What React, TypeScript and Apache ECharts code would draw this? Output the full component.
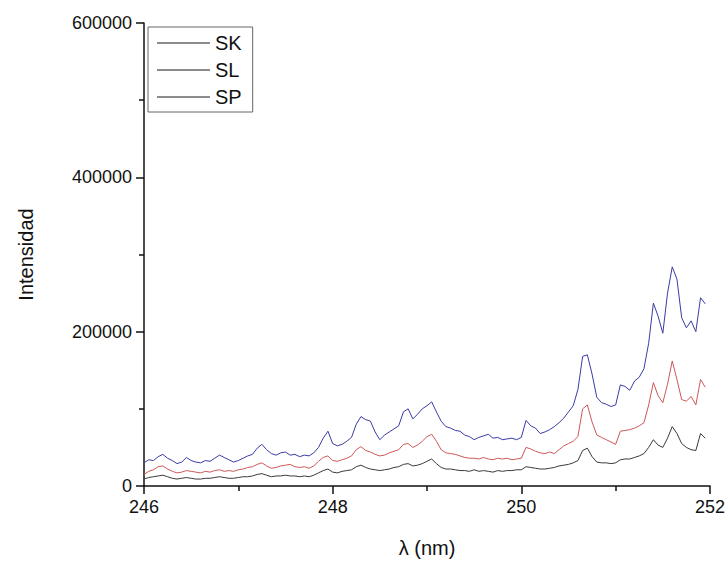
import React, { useEffect, useRef } from "react";
import * as echarts from "echarts";

// Wavelength sampling grid (nm), 0.05 nm steps from 246.00 to 251.95
const WAVELENGTH: number[] = Array.from({ length: 120 }, (_, i) => +(246 + i * 0.05).toFixed(2));

// Intensities in thousands of counts
const SK_K = [
  30, 34, 33, 38, 41, 36, 33, 29, 31, 37, 33, 31, 30, 33, 32, 36, 40, 37, 34, 31,
  33, 36, 39, 41, 49, 54, 47, 42, 40, 43, 44, 40, 41, 38, 40, 39, 43, 50, 62, 71,
  55, 52, 54, 58, 63, 80, 90, 86, 84, 70, 60, 66, 70, 74, 78, 96, 100, 87, 93, 100,
  104, 109, 96, 84, 77, 75, 72, 71, 66, 64, 60, 63, 65, 67, 62, 63, 60, 61, 62, 60,
  63, 85, 78, 75, 68, 70, 73, 77, 82, 88, 96, 104, 125, 168, 170, 145, 115, 108, 106, 103,
  105, 131, 129, 124, 136, 141, 152, 185, 237, 220, 198, 250, 284, 268, 218, 205, 214, 200, 244, 236,
];
const SL_K = [
  15, 19, 21, 25, 26, 22, 19, 17, 18, 20, 19, 18, 17, 19, 18, 20, 21, 19, 20, 19,
  21, 22, 24, 25, 28, 30, 26, 23, 24, 26, 27, 28, 25, 24, 25, 23, 26, 32, 37, 39,
  33, 32, 34, 36, 39, 47, 51, 46, 44, 41, 39, 40, 43, 45, 47, 54, 55, 50, 53, 58,
  64, 67, 58, 47, 43, 42, 41, 39, 37, 36, 36, 35, 37, 35, 34, 36, 35, 36, 34, 35,
  36, 50, 48, 45, 43, 42, 44, 42, 47, 52, 55, 58, 64, 100, 105, 83, 66, 63, 60, 57,
  54, 71, 72, 73, 75, 78, 82, 105, 134, 117, 108, 132, 162, 138, 112, 110, 116, 105, 138, 128,
];
const SP_K = [
  9, 11, 12, 13, 14, 12, 10, 9, 10, 11, 10, 9, 9, 10, 10, 11, 12, 11, 10, 10,
  11, 12, 12, 13, 15, 16, 14, 12, 13, 13, 14, 13, 13, 12, 13, 12, 14, 17, 20, 22,
  18, 17, 19, 20, 21, 25, 27, 24, 22, 21, 20, 21, 22, 24, 25, 28, 29, 26, 27, 29,
  32, 35, 29, 24, 22, 22, 21, 20, 20, 19, 21, 19, 20, 19, 18, 20, 19, 20, 20, 21,
  21, 25, 24, 23, 22, 22, 23, 24, 26, 27, 28, 30, 33, 46, 49, 38, 31, 30, 30, 29,
  30, 34, 35, 35, 37, 39, 42, 50, 60, 53, 50, 62, 77, 68, 55, 50, 47, 46, 68, 62,
];

const SERIES_NAMES = ["SK", "SL", "SP"];
const SERIES_COLORS = ["#3a3ca4", "#cc5858", "#3a3a3a"];
const SERIES_K = [SK_K, SL_K, SP_K];

const FONT = 'Arial, "Liberation Sans", sans-serif';

export default function App() {
  const ref = useRef<HTMLDivElement>(null);

  useEffect(() => {
    if (!ref.current) return;
    const chart = echarts.init(ref.current, undefined, { renderer: "svg" });
    const series = SERIES_NAMES.map((name, si) => ({
      name,
      type: "line",
      data: WAVELENGTH.map((w, i) => [w, SERIES_K[si][i] * 1000]),
      symbol: "none",
      showSymbol: false,
      lineStyle: { color: SERIES_COLORS[si], width: 1 },
      itemStyle: { color: SERIES_COLORS[si] },
      z: 3 - si,
    }));
    chart.setOption({
      animation: false,
      backgroundColor: "#ffffff",
      textStyle: { fontFamily: FONT },
      grid: { left: 144, right: 15, top: 23, bottom: 73, containLabel: false },
      legend: {
        orient: "vertical",
        left: 148,
        top: 27,
        padding: [6, 11, 5, 9],
        icon: "rect",
        itemWidth: 53,
        itemHeight: 1.5,
        itemGap: 7,
        borderColor: "#666",
        borderWidth: 1,
        backgroundColor: "#fff",
        itemStyle: { color: "#666", borderWidth: 0 },
        textStyle: { fontSize: 20, lineHeight: 20, color: "#111", fontFamily: FONT },
        data: SERIES_NAMES,
      },
      xAxis: {
        type: "value",
        min: 246,
        max: 252,
        interval: 2,
        name: "λ (nm)",
        nameLocation: "middle",
        nameGap: 52,
        nameTextStyle: { fontSize: 20, color: "#111", fontFamily: FONT },
        axisLine: { show: true, onZero: false, lineStyle: { color: "#111", width: 1.5 } },
        axisTick: { show: true, inside: false, length: 8, lineStyle: { color: "#111", width: 1.5 } },
        minorTick: { show: true, splitNumber: 2, length: 5, lineStyle: { color: "#111", width: 1.5 } },
        axisLabel: { fontSize: 18, color: "#111", margin: 12, fontFamily: FONT },
        splitLine: { show: false },
      },
      yAxis: {
        type: "value",
        min: 0,
        max: 600000,
        interval: 200000,
        name: "Intensidad",
        nameLocation: "middle",
        nameGap: 108,
        nameRotate: 90,
        nameTextStyle: { fontSize: 20, color: "#111", fontFamily: FONT },
        axisLine: { show: true, onZero: false, lineStyle: { color: "#111", width: 1.5 } },
        axisTick: { show: true, inside: false, length: 8, lineStyle: { color: "#111", width: 1.5 } },
        minorTick: { show: true, splitNumber: 2, length: 5, lineStyle: { color: "#111", width: 1.5 } },
        axisLabel: {
          fontSize: 18,
          color: "#111",
          margin: 12,
          fontFamily: FONT,
          formatter: (v: number) => String(v),
        },
        splitLine: { show: false },
      },
      series,
    });
    return () => chart.dispose();
  }, []);

  return (
    <div
      ref={ref}
      style={{ position: "absolute", left: 0, top: 0, width: 728, height: 563, background: "#fff" }}
    />
  );
}
